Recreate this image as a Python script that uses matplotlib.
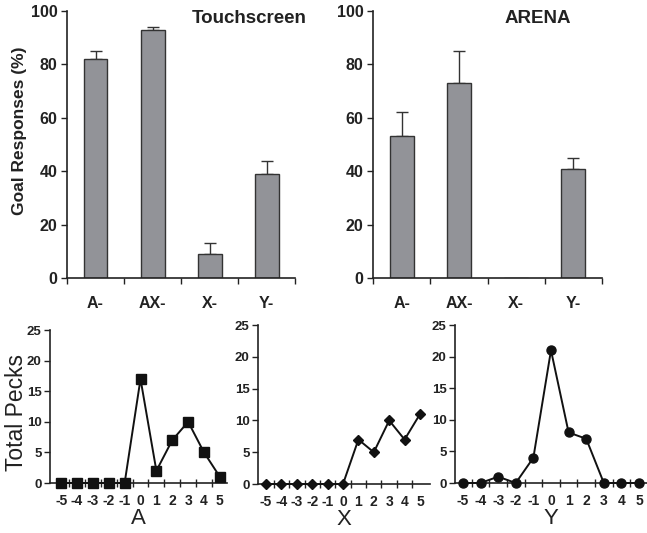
import numpy as np
import matplotlib
matplotlib.use("Agg")
import matplotlib.pyplot as plt
from matplotlib.ticker import MultipleLocator

plt.rcParams['font.family'] = ['Liberation Sans', 'DejaVu Sans']
plt.rcParams['axes.unicode_minus'] = False

# goal responses per stimulus
categories = ["A-", "AX-", "X-", "Y-"]
touch_mean = [82, 93, 9, 39]
touch_err = [3, 1, 4, 5]
arena_mean = [53, 73, 0, 41]
arena_err = [9, 12, 0, 4]

# pecks around the stimulus position
offsets = [-5, -4, -3, -2, -1, 0, 1, 2, 3, 4, 5]
pecks_a = [0, 0, 0, 0, 0, 17, 2, 7, 10, 5, 1]
pecks_x = [0, 0, 0, 0, 0, 0, 7, 5, 10, 7, 11]
pecks_y = [0, 0, 1, 0, 4, 21, 8, 7, 0, 0, 0]

fig = plt.figure(figsize=(6.47, 5.33), dpi=100)

ink = "#222222"


def bar_panel(rect, means, errs, title, tx, ylabel=None):
    ax = fig.add_axes(rect)
    pos = np.arange(len(categories)) + 0.5
    ax.bar(pos, means, 0.42, color="#929398", edgecolor="#333333", linewidth=1.0, zorder=2)
    shown = [i for i in range(len(means)) if means[i] > 0]
    ax.errorbar(pos[shown], [means[i] for i in shown],
                yerr=[[0] * len(shown), [errs[i] for i in shown]],
                fmt="none", ecolor="#333333", elinewidth=1.0, capsize=4, capthick=1.0, zorder=1)
    ax.set_xlim(0, 4)
    ax.set_ylim(0, 100)
    ax.set_yticks([0, 20, 40, 60, 80, 100])
    ax.set_xticks([0, 1, 2, 3, 4])
    ax.set_xticklabels([])
    ax.set_xticks(pos, minor=True)
    ax.set_xticklabels(categories, minor=True)
    ax.tick_params(axis="x", which="minor", length=0, pad=13)
    ax.tick_params(axis="x", which="major", length=4, direction="out", width=1, color=ink)
    ax.tick_params(axis="y", length=4, width=1, color=ink, pad=3)
    for lab in ax.get_xticklabels(minor=True) + ax.get_yticklabels():
        lab.set_fontweight("bold")
        lab.set_fontsize(11.5)
        lab.set_color(ink)
    for s in ["top", "right"]:
        ax.spines[s].set_visible(False)
    for s in ["left", "bottom"]:
        ax.spines[s].set_color(ink)
        ax.spines[s].set_linewidth(1.2)
    ax.text(tx, 1.005, title, transform=ax.transAxes, ha="center", va="top",
            fontsize=13.5, fontweight="bold", color=ink)
    if ylabel:
        ax.set_ylabel(ylabel, fontsize=12.5, fontweight="bold", color=ink)
        ax.yaxis.set_label_coords(-0.175, 0.55)
    return ax


def peck_panel(rect, vals, marker, msize, xlim, xlabel, ylabel=None):
    ax = fig.add_axes(rect)
    ax.plot(offsets, vals, color="#111111", linewidth=1.4, marker=marker,
            markersize=msize, markerfacecolor="#111111", markeredgecolor="#111111",
            clip_on=False, zorder=3)
    ax.set_xlim(*xlim)
    ax.set_ylim(0, 25)
    ax.yaxis.set_major_locator(MultipleLocator(5))
    ax.set_xticks(offsets)
    ax.tick_params(axis="x", which="major", length=0, pad=8)
    ax.set_xticks(np.arange(-4.5, 5.0, 1.0), minor=True)
    ax.tick_params(axis="x", which="minor", length=6, direction="inout", width=1, color=ink)
    ax.tick_params(axis="y", length=4, width=1, color=ink, pad=2)
    for lab in ax.get_xticklabels():
        lab.set_fontsize(10)
        lab.set_fontweight("bold")
        lab.set_color(ink)
    for lab in ax.get_yticklabels():
        lab.set_fontsize(9.5)
        lab.set_fontweight("bold")
        lab.set_color(ink)
    for s in ["top", "right"]:
        ax.spines[s].set_visible(False)
    for s in ["left", "bottom"]:
        ax.spines[s].set_color(ink)
        ax.spines[s].set_linewidth(1.2)
    ax.set_xlabel(xlabel, fontsize=16, color=ink, labelpad=0)
    if ylabel:
        ax.set_ylabel(ylabel, fontsize=16.5, color=ink)
        ax.yaxis.set_label_coords(-0.125, 0.46)
    return ax


bar_panel([0.1036, 0.4784, 0.3524, 0.501], touch_mean, touch_err, "Touchscreen", 0.80,
          ylabel="Goal Responses (%)")
bar_panel([0.5765, 0.4784, 0.354, 0.501], arena_mean, arena_err, "ARENA", 0.72)

peck_panel([0.0773, 0.0938, 0.2736, 0.287], pecks_a, "s", 6.5, (-5.7, 5.45), "A",
           ylabel="Total Pecks")
peck_panel([0.3988, 0.0919, 0.2658, 0.298], pecks_x, "D", 5, (-5.52, 5.65), "X")
peck_panel([0.7032, 0.0938, 0.2968, 0.2964], pecks_y, "o", 6.5, (-5.45, 5.45), "Y")

fig.savefig("out.png", dpi=100)
